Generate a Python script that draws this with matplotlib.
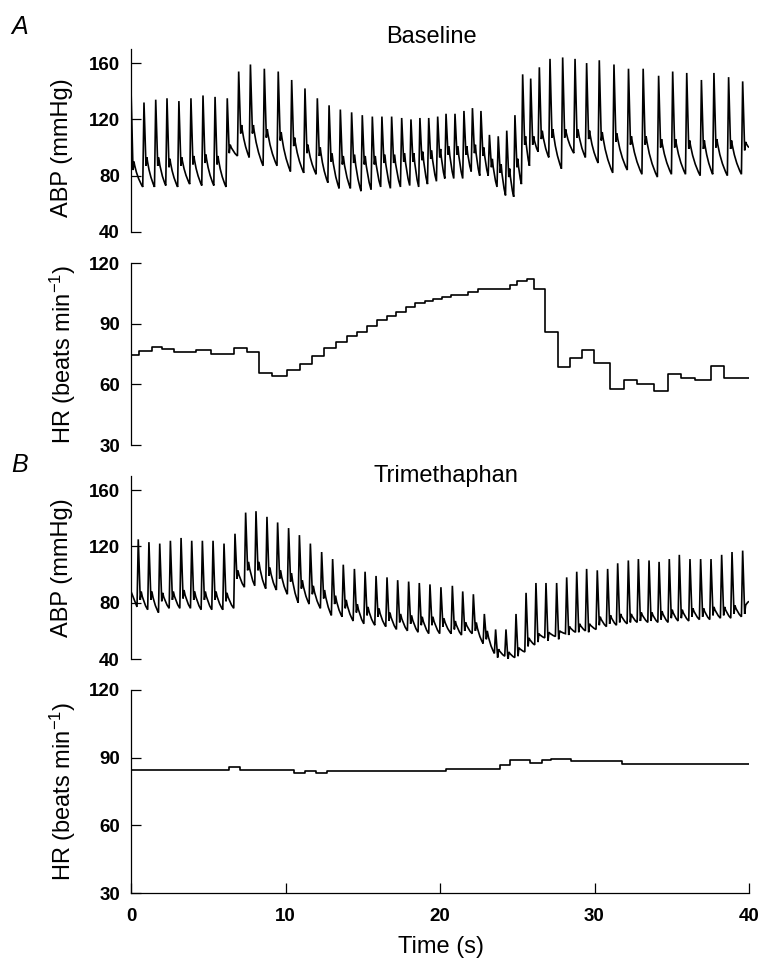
import numpy as np
import matplotlib
matplotlib.use("Agg")
import matplotlib.pyplot as plt
from matplotlib.path import Path
from matplotlib.patches import PathPatch

plt.rcParams['font.family'] = ['Liberation Sans', 'DejaVu Sans']
plt.rcParams['mathtext.fontset'] = 'custom'
plt.rcParams['mathtext.rm'] = 'Liberation Sans'
plt.rcParams['mathtext.it'] = 'Liberation Sans:italic'

# ---- A: Baseline, ABP per beat (peak time s, systolic, preceding trough, dicrotic bump) ----
a_peak_t = [0.0, 0.84, 1.60, 2.33, 3.10, 3.88, 4.66, 5.44, 6.23, 6.97, 7.73, 8.63, 9.53,
            10.40, 11.26, 12.06, 12.82, 13.55, 14.28, 14.97, 15.62, 16.24, 16.87, 17.52,
            18.12, 18.70, 19.27, 19.85, 20.39, 20.97, 21.55, 22.10, 22.65, 23.20, 23.77,
            24.32, 24.85, 25.35, 25.87, 26.43, 27.12, 27.94, 28.74, 29.49, 30.31, 31.26,
            32.20, 33.15, 34.15, 35.06, 35.97, 36.92, 37.73, 38.68, 39.59]
a_sys = [142, 132, 134, 135, 133, 135, 137, 136, 135, 154, 159, 156, 154, 148, 142, 135,
         130, 127, 125, 123, 122, 122, 122, 121, 120, 121, 121, 122, 124, 124, 126, 128,
         126, 109, 108, 112, 123, 152, 149, 157, 163, 164, 163, 160, 162, 159, 156, 156,
         151, 154, 153, 148, 153, 150, 147]
a_dia = [100, 72, 72, 73, 72, 74, 73, 73, 72, 94, 93, 87, 87, 83, 82, 81, 75, 71, 71, 69,
         70, 72, 71, 72, 73, 72, 74, 76, 78, 78, 78, 83, 80, 80, 72, 66, 65, 74, 87, 97,
         93, 85, 96, 93, 89, 82, 84, 81, 79, 81, 81, 80, 81, 80, 81]
a_notch = [90, 93, 93, 92, 93, 94, 95, 94, 102, 116, 116, 113, 111, 107, 102, 100, 96, 94,
           95, 94, 94, 95, 95, 96, 96, 97, 98, 99, 101, 101, 101, 102, 100, 92, 88, 85, 92,
           108, 108, 112, 113, 113, 113, 112, 111, 110, 108, 108, 106, 106, 105, 105, 106,
           105, 104]
a_abp_end = 100

# HR baseline: step start times (s) and values (beats/min)
a_hr_t = [0, 0.50, 1.36, 1.99, 2.78, 4.21, 5.16, 6.69, 7.54, 8.27, 9.13, 10.08, 10.94,
          11.73, 12.52, 13.25, 13.95, 14.62, 15.25, 15.95, 16.58, 17.16, 17.79, 18.36,
          19.00, 19.57, 20.14, 20.71, 21.82, 22.46, 24.52, 24.99, 25.63, 26.11, 26.80,
          27.63, 28.39, 29.21, 29.98, 31.02, 31.88, 32.77, 33.88, 34.73, 35.62, 36.51,
          37.53, 38.38]
a_hr = [74.5, 76.5, 78.6, 77.6, 76, 77, 75, 78, 76, 65.6, 64.3, 67.3, 70, 74, 78, 81, 84,
        86, 89, 92, 94, 96, 98, 100, 101, 102, 103, 104, 105.6, 107, 109, 111, 112, 107,
        86, 68.5, 73, 77, 70.5, 57.8, 62, 60, 56.5, 65, 63, 62, 69, 63]

# ---- B: Trimethaphan ----
b_peak_t = [0.47, 1.16, 1.86, 2.55, 3.24, 3.93, 4.62, 5.31, 6.02, 6.73, 7.42, 8.09, 8.80,
            9.49, 10.20, 10.90, 11.61, 12.34, 13.05, 13.74, 14.46, 15.15, 15.86, 16.57,
            17.26, 17.97, 18.66, 19.35, 20.06, 20.80, 21.47, 22.16, 22.87, 23.60, 24.27,
            24.92, 25.57, 26.21, 26.86, 27.55, 28.20, 28.85, 29.49, 30.18, 30.85, 31.50,
            32.19, 32.84, 33.53, 34.18, 34.84, 35.49, 36.18, 36.87, 37.54, 38.23, 38.90,
            39.59]
b_sys = [125, 123, 122, 124, 126, 124, 124, 124, 122, 129, 144, 145, 141, 137, 133, 128,
         122, 116, 111, 107, 104, 102, 99, 98, 96, 95, 94, 93, 91,
         92, 88, 86, 72, 61, 61, 72, 87, 94, 94, 94, 98, 102, 104, 103, 104, 108, 110,
         111, 110, 109, 111, 114, 111, 111, 111, 114, 116, 117]
b_dia = [77, 75, 73, 76, 76, 76, 75, 75, 75, 76, 91, 92, 90, 89, 86, 80, 79, 76, 71, 70,
         67, 65, 64, 63, 61, 60, 59, 58, 58,
         58, 57, 58, 51, 44, 42, 41, 45, 50, 55, 56, 58, 59, 60, 61, 63, 64, 65, 66, 66,
         66, 66, 67, 67, 68, 68, 69, 69, 70]
b_notch = [88, 88, 87, 88, 89, 88, 88, 88, 87, 103, 109, 109, 105, 103, 101, 96, 92, 89,
           85, 82, 79, 77, 76, 73, 72, 71, 70, 70, 69,
           67, 66, 66, 60, 47, 45, 48, 55, 58, 59, 60, 63, 65, 65, 70, 71, 72, 72, 73, 73,
           74, 75, 75, 76, 76, 77, 77, 78, 78]
b_abp_start = 88
b_abp_end = 81

b_hr_t = [0, 6.37, 7.07, 10.56, 11.26, 11.99, 12.71, 20.39, 23.88, 24.52, 25.85, 26.58,
          27.21, 28.48, 31.81]
b_hr = [84.5, 86, 84.5, 83, 84.3, 83, 84.2, 85, 86.6, 88.8, 87.5, 88.8, 89.6, 88.5, 87.3]

abp_ticks = [40, 80, 120, 160]
hr_ticks = [30, 60, 90, 120]
time_ticks = [0, 10, 20, 30, 40]

# pulse shape offsets (s) used to draw each beat
RISE, DIP, BUMP = 0.08, 0.13, 0.19


def abp_path(peak_t, sys, dia, notch, v_end, v_start=None):
    verts, codes = [], []
    if v_start is not None:
        verts.append((0.0, v_start))
        codes.append(Path.MOVETO)
    n = len(peak_t)
    for i in range(n):
        tp = peak_t[i]
        pts = [(tp - RISE, dia[i]), (tp, sys[i]), (tp + DIP, notch[i] - 6),
               (tp + BUMP, notch[i])]
        for p in pts:
            verts.append(p)
            codes.append(Path.MOVETO if not codes else Path.LINETO)
        # diastolic run-off, drawn as a curve to the next upstroke
        t0, v0 = tp + BUMP, notch[i]
        if i + 1 < n:
            t1, v1 = peak_t[i + 1] - RISE, dia[i + 1]
        else:
            t1, v1 = 40.0, v_end
        verts.append((t0 + 0.3 * (t1 - t0), v1 + 0.4 * (v0 - v1)))
        verts.append((t1, v1))
        codes += [Path.CURVE3, Path.CURVE3]
    return Path(verts, codes)


W, H = 769, 960
fig = plt.figure(figsize=(W / 100, H / 100), dpi=100)
left = 131 / W
width = 618 / W


def make_ax(top_px, bottom_px):
    return fig.add_axes([left, 1 - bottom_px / H, width, (bottom_px - top_px) / H])


ax1 = make_ax(49, 232)
ax2 = make_ax(263, 445)
ax3 = make_ax(476, 659)
ax4 = make_ax(690, 893)

ax1.add_patch(PathPatch(abp_path(a_peak_t, a_sys, a_dia, a_notch, a_abp_end),
                        fill=False, edgecolor='black', lw=1.2))
ax2.step(a_hr_t + [40], a_hr + [a_hr[-1]], where='post', color='black', lw=1.2)
ax3.add_patch(PathPatch(abp_path(b_peak_t, b_sys, b_dia, b_notch, b_abp_end, b_abp_start),
                        fill=False, edgecolor='black', lw=1.2))
ax4.step(b_hr_t + [40], b_hr + [b_hr[-1]], where='post', color='black', lw=1.2)

for ax, ylim, ticks, lab in [(ax1, (40, 170), abp_ticks, 'ABP (mmHg)'),
                             (ax2, (30, 120), hr_ticks, 'HR (beats min$^{-1}$)'),
                             (ax3, (40, 170), abp_ticks, 'ABP (mmHg)'),
                             (ax4, (30, 120), hr_ticks, 'HR (beats min$^{-1}$)')]:
    ax.set_xlim(0, 40)
    ax.set_ylim(*ylim)
    ax.set_yticks(ticks)
    for s in ['top', 'right']:
        ax.spines[s].set_visible(False)
    ax.spines['left'].set_linewidth(0.9)
    ax.tick_params(axis='y', direction='in', length=7, width=0.9, pad=8, labelsize=13.5)
    for tl in ax.get_yticklabels():
        tl.set_fontweight('bold')
    ax.set_ylabel(lab, fontsize=17, va='center')
    ax.yaxis.set_label_coords(-0.111, 0.5)
    if ax is not ax4:
        ax.spines['bottom'].set_visible(False)
        ax.set_xticks([])

ax1.yaxis.set_label_coords(-0.111, 0.46)

ax4.set_xticks(time_ticks)
ax4.spines['bottom'].set_linewidth(0.9)
ax4.tick_params(axis='x', direction='in', length=7, width=0.9, pad=11, labelsize=13.5)
for tl in ax4.get_xticklabels():
    tl.set_fontweight('bold')

fig.text(431 / W, 1 - 43 / H, 'Baseline', fontsize=17, ha='center', va='baseline')
fig.text(446 / W, 1 - 482 / H, 'Trimethaphan', fontsize=17, ha='center', va='baseline')
fig.text(11 / W, 1 - 34 / H, 'A', fontsize=18, style='italic', ha='left', va='baseline')
fig.text(11 / W, 1 - 472 / H, 'B', fontsize=18, style='italic', ha='left', va='baseline')
fig.text(441 / W, 1 - 953 / H, 'Time (s)', fontsize=17, ha='center', va='baseline')

fig.savefig('out.png', dpi=100)
